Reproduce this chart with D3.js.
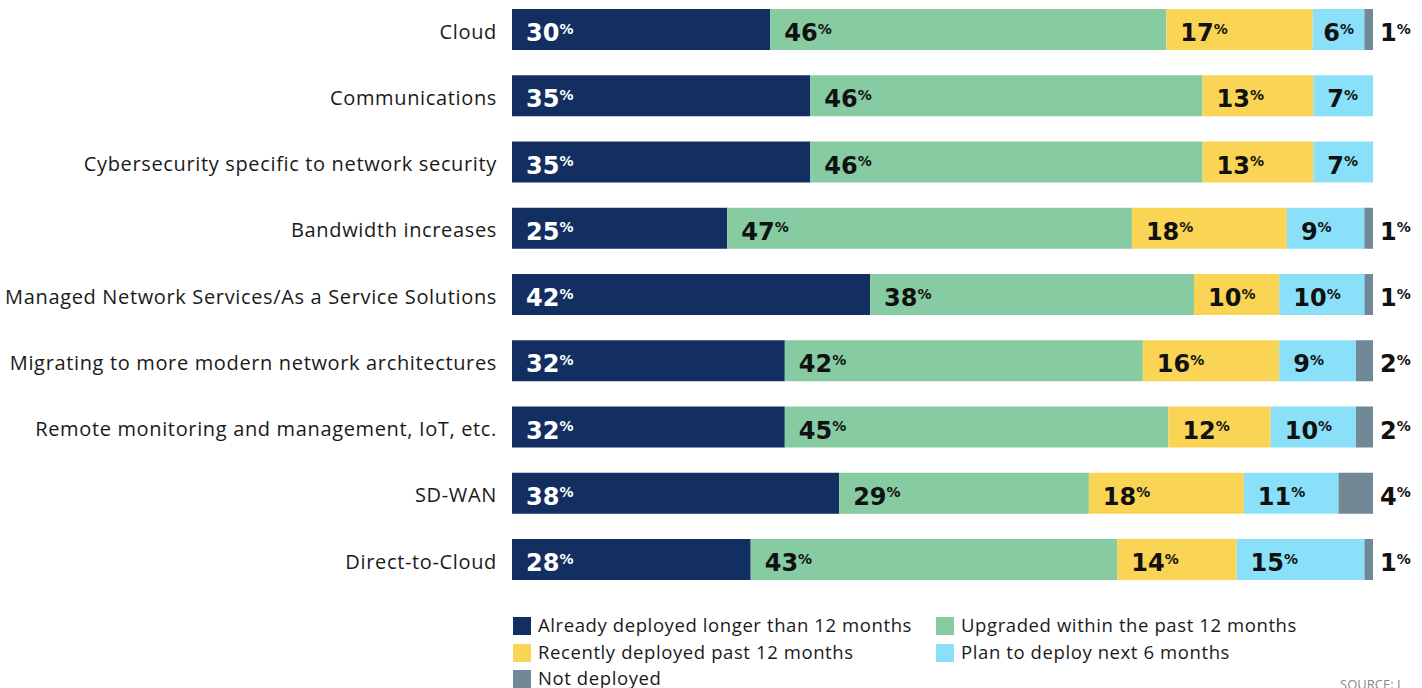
<!DOCTYPE html>
<html>
<head>
<meta charset="utf-8">
<script src="https://cdn.jsdelivr.net/npm/d3@7"></script>
<style>
	body { margin: 0; background: #fff; }
	svg { display: block; }
	.cat { font-family: 'Open Sans', sans-serif; font-size: 20px; letter-spacing: 0.65px; fill: #1a1a1a; }
	.val { font-family: 'DejaVu Sans', sans-serif; font-weight: bold; font-size: 24px; }
	.leg { font-family: 'Open Sans', sans-serif; font-size: 18.5px; letter-spacing: 0.6px; fill: #1a1a1a; }
</style>
</head>
<body>
<svg id="chart" width="1422" height="688"></svg>
<script>
var categories = [
	'Cloud',
	'Communications',
	'Cybersecurity specific to network security',
	'Bandwidth increases',
	'Managed Network Services/As a Service Solutions',
	'Migrating to more modern network architectures',
	'Remote monitoring and management, IoT, etc.',
	'SD-WAN',
	'Direct-to-Cloud'
]
var series_names = [
	'Already deployed longer than 12 months',
	'Upgraded within the past 12 months',
	'Recently deployed past 12 months',
	'Plan to deploy next 6 months',
	'Not deployed'
]
var already = [30, 35, 35, 25, 42, 32, 32, 38, 28]
var upgraded = [46, 46, 46, 47, 38, 42, 45, 29, 43]
var recently = [17, 13, 13, 18, 10, 16, 12, 18, 14]
var plan = [6, 7, 7, 9, 10, 9, 10, 11, 15]
var not_deployed = [1, 0, 0, 1, 1, 2, 2, 4, 1]
var colors = ['#132f62', '#86cba1', '#f9d455', '#8ae0f8', '#718896']

var svg = d3.select('#chart')
var all_series = [already, upgraded, recently, plan, not_deployed]

var rows = categories.map(function(c, i){
	var vals = all_series.map(function(s){ return s[i] })
	return {name: c, vals: vals, total: d3.sum(vals)}
})

var x = d3.scaleLinear().domain([0, 100]).range([512, 1373])
var y = d3.scalePoint().domain(categories).range([29.5, 559.5])
var bar_h = 41

// stack each row, normalised to its own total
rows.forEach(function(r){
	var acc = 0
	r.segs = r.vals.map(function(v, k){
		var s = {k: k, v: v, x0: acc / r.total * 100}
		acc += v
		s.x1 = acc / r.total * 100
		return s
	})
})

var row = svg.selectAll('.row')
	.data(rows)
	.enter()
	.append('g')
	.attr('class', 'row')
	.attr('transform', function(d){ return 'translate(0,' + y(d.name) + ')' })

row.append('text')
	.attr('class', 'cat')
	.attr('x', 497)
	.attr('y', 9)
	.attr('text-anchor', 'end')
	.text(function(d){ return d.name })

row.selectAll('rect')
	.data(function(d){ return d.segs.filter(function(s){ return s.v > 0 }) })
	.enter()
	.append('rect')
	.attr('x', function(s){ return x(s.x0) })
	.attr('width', function(s){ return x(s.x1) - x(s.x0) })
	.attr('y', -bar_h / 2)
	.attr('height', bar_h)
	.attr('fill', function(s){ return colors[s.k] })

var labels = row.selectAll('.val')
	.data(function(d){ return d.segs.filter(function(s){ return s.v > 0 }) })
	.enter()
	.append('text')
	.attr('class', 'val')
	.attr('y', 11.5)
	.attr('fill', function(s){ return s.k === 0 ? '#fff' : '#111' })
labels.append('tspan').text(function(s){ return s.v })
labels.append('tspan')
	.attr('font-size', 14)
	.attr('font-weight', 600)
	.attr('dy', -7.5)
	.text('%')
labels.attr('x', function(s){
	if (s.k === 4) return x(100) + 7
	var w = x(s.x1) - x(s.x0)
	var tw = this.getComputedTextLength()
	return x(s.x0) + Math.min(14, (w - tw) / 2)
})

// legend
var leg_pos = [[513, 626], [936, 626], [513, 653], [936, 653], [513, 679]]
var leg = svg.selectAll('.legend')
	.data(series_names)
	.enter()
	.append('g')
	.attr('class', 'legend')
	.attr('transform', function(d, i){ return 'translate(' + leg_pos[i][0] + ',' + leg_pos[i][1] + ')' })
leg.append('rect')
	.attr('x', 0)
	.attr('y', -9)
	.attr('width', 18)
	.attr('height', 18)
	.attr('fill', function(d, i){ return colors[i] })
leg.append('text')
	.attr('class', 'leg')
	.attr('x', 25)
	.attr('y', 6)
	.text(function(d){ return d })

svg.append('text')
	.attr('x', 1340)
	.attr('y', 689)
	.attr('font-family', 'Open Sans, sans-serif')
	.attr('font-size', 13)
	.attr('fill', '#888')
	.text('SOURCE: I')
</script>
</body>
</html>
